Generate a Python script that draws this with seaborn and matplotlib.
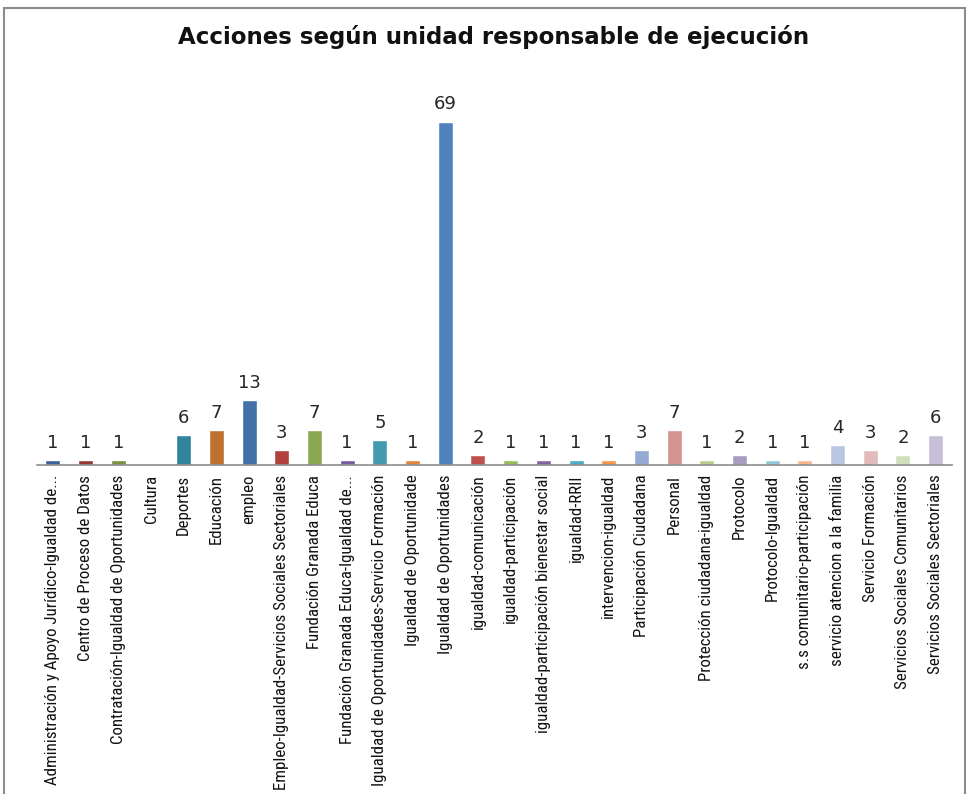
import matplotlib
matplotlib.use("Agg")
import matplotlib.pyplot as plt
from matplotlib.patches import Rectangle
from matplotlib import font_manager as fm
import seaborn as sns
import pandas as pd

categories = [
    "Administración y Apoyo Jurídico-Igualdad de...",
    "Centro de Proceso de Datos",
    "Contratación-Igualdad de Oportunidades",
    "Cultura",
    "Deportes",
    "Educación",
    "empleo",
    "Empleo-Igualdad-Servicios Sociales Sectoriales",
    "Fundación Granada Educa",
    "Fundación Granada Educa-Igualdad de...",
    "Igualdad de Oportunidades-Servicio Formación",
    "Igualdad de Oportunidade",
    "Igualdad de Oportunidades",
    "igualdad-comunicación",
    "igualdad-participación",
    "igualdad-participación bienestar social",
    "igualdad-RRII",
    "intervencion-igualdad",
    "Participación Ciudadana",
    "Personal",
    "Protección ciudadana-igualdad",
    "Protocolo",
    "Protocolo-Igualdad",
    "s.s comunitario-participación",
    "servicio atencion a la familia",
    "Servicio Formación",
    "Servicios Sociales Comunitarios",
    "Servicios Sociales Sectoriales",
]
values = [1, 1, 1, 0, 6, 7, 13, 3, 7, 1, 5, 1, 69, 2, 1, 1, 1, 1, 3, 7, 1, 2, 1, 1, 4, 3, 2, 6]
colors = [
    "#3D6199", "#953735", "#77933C", "#31849B", "#31849B", "#C0712F", "#4470A8",
    "#B0413E", "#8BA851", "#7A5C9E", "#4399B0", "#E0883A", "#4F81BD", "#C0504D",
    "#9BBB59", "#8064A2", "#4BACC6", "#F79646", "#95ABD4", "#D49290", "#B8CF8C",
    "#A99BC2", "#93C8D8", "#F9B68E", "#B9C8E2", "#E2BCBB", "#D2DFBC", "#C8C0D8",
]
title = "Acciones según unidad responsable de ejecución"

df = pd.DataFrame({"unidad": categories, "acciones": values})

sns.set_theme(style="white")
plt.rcParams["font.family"] = ["DejaVu Sans"]

available = {f.name for f in fm.fontManager.ttflist}
narrow_pref = ["Roboto Condensed", "Fira Sans Condensed", "PT Sans Narrow",
               "Archivo Narrow", "Encode Sans Condensed", "Open Sans Condensed",
               "Carlito", "Liberation Sans Narrow"]
narrow = [n for n in narrow_pref if n in available][:1] + ["DejaVu Sans"]

W, H = 968, 794
fig = plt.figure(figsize=(W / 100, H / 100), dpi=100)
fig.patch.set_facecolor("white")

left_px, right_px = 36.6, 952.0
base_px, top_px = 465.0, 67.0
ax = fig.add_axes([left_px / W, (H - base_px) / H,
                   (right_px - left_px) / W, (base_px - top_px) / H])

sns.barplot(data=df, x="unidad", y="acciones", hue="unidad",
            palette=dict(zip(categories, colors)), legend=False,
            width=0.46, saturation=1, ax=ax)

ax.set_ylim(0, 80)
ax.set_xlim(-0.5, len(categories) - 0.5)
ax.set_xlabel("")
ax.set_ylabel("")
ax.set_yticks([])
for s in ["top", "right", "left"]:
    ax.spines[s].set_visible(False)
ax.spines["bottom"].set_color("#8c8c8c")
ax.spines["bottom"].set_linewidth(1.2)
ax.tick_params(axis="x", length=0, pad=7)
ax.set_xticks(range(len(categories)))
ax.set_xticklabels(categories, rotation=90, va="top", ha="center",
                   fontsize=12.2, color="#111111", family=narrow)

for cont in ax.containers:
    labs = []
    for bar in cont:
        h = bar.get_height()
        labs.append("" if (h != h or h == 0) else f"{int(round(h))}")
    ax.bar_label(cont, labels=labs, padding=6, fontsize=13, color="#262626")

fig.text(494 / W, 1 - 37 / H, title, ha="center", va="center",
         fontsize=16.5, fontweight="bold", color="#111111")

fig.patches.append(Rectangle((4 / W, -0.05), (965 - 4) / W, 1.05 - 8 / H,
                             transform=fig.transFigure, fill=False,
                             edgecolor="#8c8c8c", linewidth=1.5, zorder=0))

fig.savefig("out.png", dpi=100)
